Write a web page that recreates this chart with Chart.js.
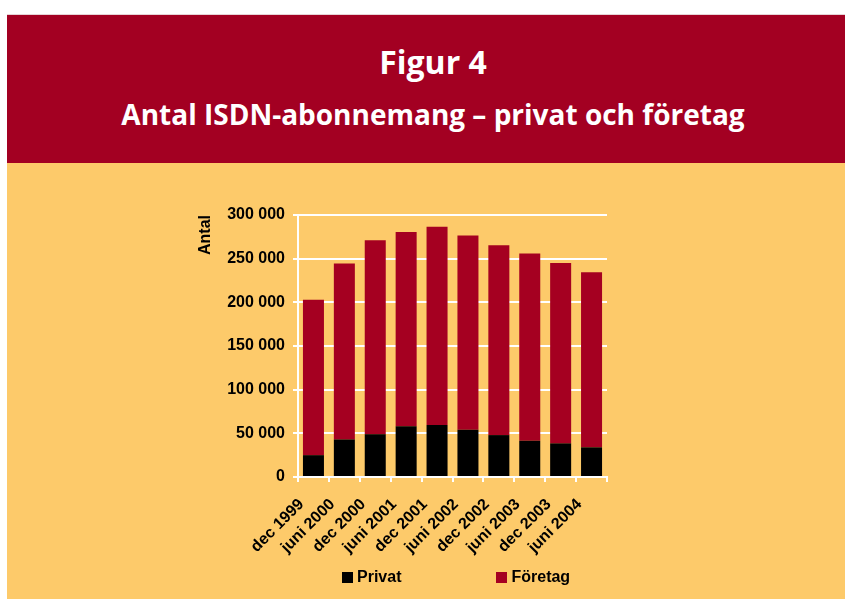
<!DOCTYPE html>
<html>
<head>
<meta charset="utf-8">
<script src="https://cdn.jsdelivr.net/npm/chart.js@4.4.1/dist/chart.umd.min.js"></script>
<style>
  html, body { margin: 0; padding: 0; background: #fff; }
  body { width: 845px; height: 599px; position: relative; overflow: hidden; }
  #header {
    position: absolute; left: 7px; top: 14px; width: 838px; height: 149px;
    background: #a30022; border-top: 1px solid #e6d3d6; box-sizing: border-box;
    color: #fff; font-family: "Open Sans", sans-serif; font-weight: 700; text-align: center;
  }
  #header h1 { margin: 0; position: absolute; left: 14px; right: 0; top: 27px; font-size: 32px; line-height: 40px; font-weight: 700; }
  #header h2 { margin: 0; position: absolute; left: 14px; right: 0; top: 81px; font-size: 28px; line-height: 36px; font-weight: 700; }
  #panel { position: absolute; left: 7px; top: 163px; width: 838px; height: 436px; background: #fdca6a; }
  #chart { position: absolute; left: 0; top: 0; }
  #legend {
    position: absolute; left: 342px; top: 568px; display: flex; align-items: center;
    font-family: "Liberation Sans", Arial, sans-serif; font-weight: 700; font-size: 16px; color: #000;
  }
  #legend .item { display: flex; align-items: center; margin-right: 95px; }
  #legend .box { width: 11px; height: 11px; margin-right: 4px; }
</style>
</head>
<body>
<div id="header">
  <h1>Figur 4</h1>
  <h2>Antal ISDN-abonnemang – privat och företag</h2>
</div>
<div id="panel"></div>
<canvas id="chart" width="845" height="599"></canvas>
<div id="legend"></div>
<script>
// periods on the x axis
const periods = ['dec 1999', 'juni 2000', 'dec 2000', 'juni 2001', 'dec 2001',
                 'juni 2002', 'dec 2002', 'juni 2003', 'dec 2003', 'juni 2004'];

// subscriptions
const privat  = [25000, 43000, 49000, 58000, 59500, 54000, 48000, 41500, 38500, 34000];
const foretag = [178000, 201500, 222000, 222500, 227000, 222500, 217500, 214500, 206500, 200500];

const seriesNames = ['Privat', 'Företag'];
const seriesColors = ['#000000', '#a50021'];

const yTicks = [0, 50000, 100000, 150000, 200000, 250000, 300000];

const fmt = v => String(v).replace(/\B(?=(\d{3})+(?!\d))/g, ' ');

Chart.defaults.font.family = '"Liberation Sans", Arial, sans-serif';
Chart.defaults.font.weight = 'bold';
Chart.defaults.color = '#000';

const ctx = document.getElementById('chart').getContext('2d');

new Chart(ctx, {
  type: 'bar',
  data: {
    labels: periods,
    datasets: [
      { label: seriesNames[0], data: privat, backgroundColor: seriesColors[0] },
      { label: seriesNames[1], data: foretag, backgroundColor: seriesColors[1] },
    ],
  },
  options: {
    responsive: false,
    animation: false,
    layout: { padding: { left: 193, right: 238, top: 215, bottom: 37 } },
    datasets: { bar: { barPercentage: 0.68, categoryPercentage: 1 } },
    plugins: { legend: { display: false }, tooltip: { enabled: false } },
    scales: {
      x: {
        stacked: true,
        afterFit: s => { s.height = 85; },
        grid: { drawOnChartArea: false, color: '#fff', lineWidth: 2, tickLength: 5 },
        border: { color: '#fff', width: 2 },
        ticks: { font: { size: 16, weight: 'bold' }, minRotation: 45, maxRotation: 45, padding: 13, labelOffset: -12, autoSkip: false },
      },
      y: {
        stacked: true,
        min: 0,
        max: 300000,
        afterFit: s => { s.width = 105; },
        afterBuildTicks: s => { s.ticks = yTicks.map(v => ({ value: v })); },
        grid: { color: '#fff', lineWidth: 2, tickLength: 5 },
        border: { color: '#fff', width: 2 },
        ticks: { font: { size: 16, weight: 'bold' }, padding: 8, callback: v => fmt(v) },
        title: { display: true, text: 'Antal', align: 'end', font: { size: 16, weight: 'bold' }, padding: { top: 3, bottom: 4 } },
      },
    },
  },
});

// legend in html, spread out like the original
const legend = document.getElementById('legend');
seriesNames.forEach((name, i) => {
  const item = document.createElement('div');
  item.className = 'item';
  item.innerHTML = '<span class="box" style="background:' + seriesColors[i] + '"></span>' + name;
  legend.appendChild(item);
});
</script>
</body>
</html>
